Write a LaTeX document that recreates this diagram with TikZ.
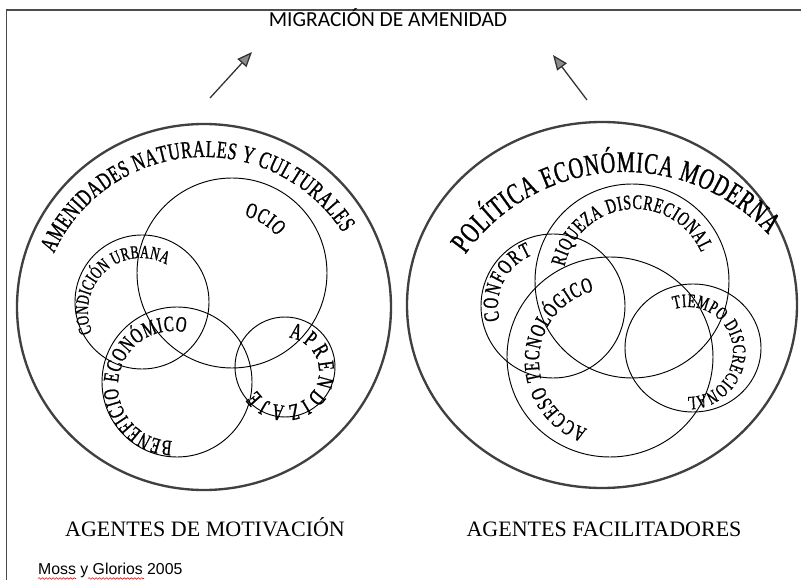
\documentclass[tikz,border=0pt]{standalone}
\usepackage{fontspec}
\setmainfont{Liberation Serif}
\newfontfamily\arcfont[FakeStretch=0.68,FakeBold=1]{Liberation Serif}
\newfontfamily\titlefont{Carlito}
\newfontfamily\notefont{Liberation Sans}
\usetikzlibrary{arrows.meta,decorations.text,decorations.pathmorphing}

\begin{document}
\begin{tikzpicture}[x=0.03cm,y=0.03cm,
    outer/.style={draw=black!75,line width=2pt},
    inner/.style={draw=black,line width=0.8pt},
    uparrow/.style={draw=black!80,line width=1.1pt,-{Triangle[length=4.5mm,width=3.6mm,fill=black!45]}},
    arctext/.style 2 args={decorate,decoration={text along path,text align={fit to path},
      text={|\arcfont\fontsize{#1}{#1}\selectfont|#2}}},
    spell/.style={draw=red,line width=0.5pt,decorate,decoration={snake,amplitude=0.7,segment length=3}}]
    \useasboundingbox (0,0) rectangle (801,580);
    \draw[black!70,line width=1.2pt] (6.5,0) -- (6.5,570) -- (801,570);
    \node[font=\titlefont\fontsize{18.3pt}{18.3pt}\selectfont,anchor=base] (title) at (388,553) {MIGRACIÓN DE AMENIDAD};
    \coordinate (a1) at (210,482);
    \coordinate (a2) at (252,528);
    \coordinate (b1) at (587,480);
    \coordinate (b2) at (553,525);
    \draw[uparrow] (a1) -- (a2);
    \draw[uparrow] (b1) -- (b2);
    % agentes de motivacion
    \coordinate (motiv) at (204,273);
    \coordinate (ocio) at (232,307);
    \coordinate (cond) at (142,278);
    \coordinate (benef) at (177,198);
    \coordinate (aprend) at (285,213);
    \draw[outer] (motiv) ellipse[x radius=187,y radius=183];
    \draw[inner] (ocio) circle[radius=95];
    \draw[inner] (cond) circle[radius=67];
    \draw[inner] (benef) circle[radius=75];
    \draw[inner] (aprend) circle[radius=50];
    \coordinate (tmotiv) at (204,258);
    \coordinate (tocio) at (232,307);
    \coordinate (tcond) at (141,269);
    \coordinate (tbenef) at (173,194);
    \coordinate (taprend) at (285,208.5);
    \path[arctext={20.6pt}{AMENIDADES NATURALES Y CULTURALES}] ([shift={(155.5:165)}]tmotiv) arc[start angle=155.5,end angle=32.6,radius=165];
    \path[arctext={18.6pt}{OCIO}] ([shift={(77.7:58)}]tocio) arc[start angle=77.7,end angle=39.3,radius=58];
    \path[arctext={15.8pt}{CONDICIÓN URBANA}] ([shift={(203.7:53)}]tcond) arc[start angle=203.7,end angle=61.1,radius=53];
    \path[arctext={18.6pt}{BENEFICIO ECONÓMICO}] ([shift={(269.2:55)}]tbenef) arc[start angle=269.2,end angle=76.8,radius=55];
    \path[arctext={19.7pt}{APRENDIZAJE}] ([shift={(83.6:34)}]taprend) arc[start angle=83.6,end angle=-146.8,radius=34];
    % agentes facilitadores
    \coordinate (facil) at (602,275);
    \coordinate (riq) at (632,299);
    \coordinate (conf) at (553,274);
    \coordinate (acc) at (610,223);
    \coordinate (tiem) at (693,232);
    \draw[outer] (facil) ellipse[x radius=195,y radius=183];
    \draw[inner] (riq) circle[radius=97];
    \draw[inner] (conf) circle[radius=72];
    \draw[inner] (acc) ellipse[x radius=103,y radius=100];
    \draw[inner] (tiem) ellipse[x radius=68,y radius=64];
    \coordinate (tfacil) at (625,212);
    \coordinate (triq) at (635,299);
    \coordinate (tconf) at (553,274);
    \coordinate (tacc) at (611,219);
    \coordinate (ttiem) at (688,228);
    \path[arctext={25.5pt}{POLÍTICA ECONÓMICA MODERNA}] ([shift={(144.6:196)}]tfacil) arc[start angle=144.6,end angle=42.9,radius=196];
    \path[arctext={17.7pt}{RIQUEZA DISCRECIONAL}] ([shift={(168.5:72)}]triq) arc[start angle=168.5,end angle=23.3,radius=72];
    \path[arctext={18.6pt}{CONFORT}] ([shift={(195:55)}]tconf) arc[start angle=195,end angle=112,radius=55];
    \path[arctext={18.6pt}{ACCESO TECNOLÓGICO}] ([shift={(250.8:72)}]tacc) arc[start angle=250.8,end angle=103.7,radius=72];
    \path[arctext={16.2pt}{TIEMPO DISCRECIONAL}] ([shift={(107.9:45)}]ttiem) arc[start angle=107.9,end angle=-91,radius=45];
    \node[font=\fontsize{18.8pt}{18.8pt}\selectfont,anchor=base] (motivlbl) at (205,43) {AGENTES DE MOTIVACIÓN};
    \node[font=\fontsize{18.8pt}{18.8pt}\selectfont,anchor=base] (facillbl) at (604,43) {AGENTES FACILITADORES};
    \node[font=\notefont\fontsize{13.5pt}{13.5pt}\selectfont,anchor=base west,inner sep=0pt] (source) at (38,5) {Moss y Glorios 2005};
    \draw[spell] (38,1.5) -- (76,1.5);
    \draw[spell] (88,1.5) -- (144,1.5);
\end{tikzpicture}
\end{document}
